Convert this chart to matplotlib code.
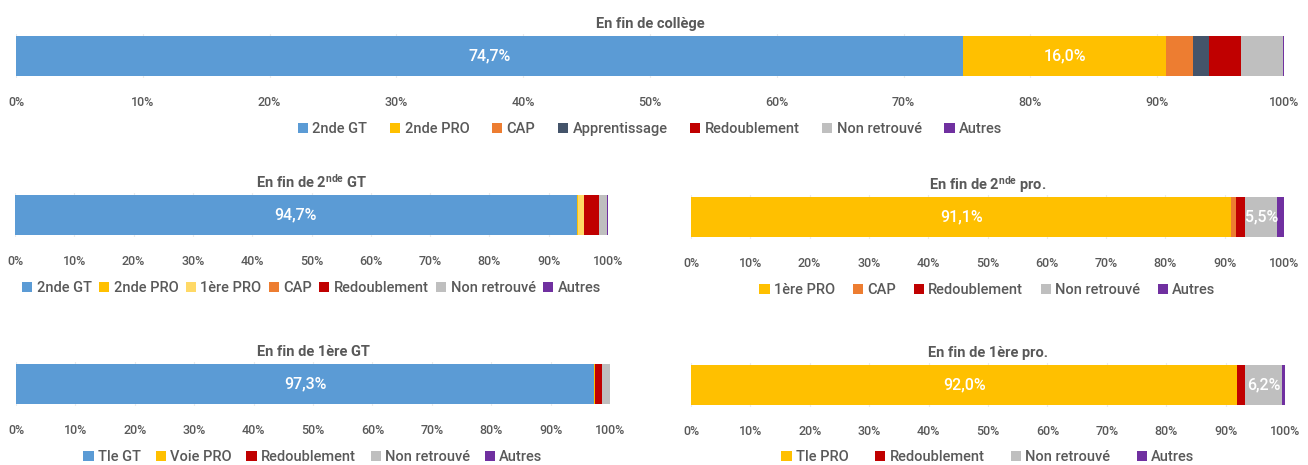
import matplotlib
matplotlib.use("Agg")
import matplotlib.pyplot as plt
from matplotlib.patches import Patch

FAM = ['Roboto', 'DejaVu Sans']
plt.rcParams['font.family'] = FAM
plt.rcParams['mathtext.fontset'] = 'custom'
plt.rcParams['mathtext.rm'] = 'Roboto:bold'
plt.rcParams['mathtext.it'] = 'Roboto:bold'
plt.rcParams['mathtext.bf'] = 'Roboto:bold'

COLORS = {
    '2nde GT': '#5B9BD5', '2nde PRO': '#FFC000', '1ère PRO': '#FFD966', 'CAP': '#ED7D31',
    'Apprentissage': '#44546A', 'Redoublement': '#C00000', 'Non retrouvé': '#BFBFBF',
    'Autres': '#7030A0', 'Tle GT': '#5B9BD5', 'Voie PRO': '#FFC000', 'Tle PRO': '#FFC000',
}
COLORS_R = {'1ère PRO': '#FFC000'}

# Data
college_cats = ['2nde GT', '2nde PRO', 'CAP', 'Apprentissage', 'Redoublement', 'Non retrouvé', 'Autres']
college_vals = [74.7, 16.0, 2.1, 1.3, 2.5, 3.3, 0.1]

gt2_cats = ['2nde GT', '2nde PRO', '1ère PRO', 'CAP', 'Redoublement', 'Non retrouvé', 'Autres']
gt2_vals = [94.7, 0.3, 1.0, 0.0, 2.4, 1.4, 0.2]

pro2_cats = ['1ère PRO', 'CAP', 'Redoublement', 'Non retrouvé', 'Autres']
pro2_vals = [91.1, 0.8, 1.5, 5.5, 1.1]

gt1_cats = ['Tle GT', 'Voie PRO', 'Redoublement', 'Non retrouvé', 'Autres']
gt1_vals = [97.3, 0.1, 1.3, 1.3, 0.0]

pro1_cats = ['Tle PRO', 'Redoublement', 'Non retrouvé', 'Autres']
pro1_vals = [92.0, 1.3, 6.2, 0.5]

ticks = list(range(0, 101, 10))
tick_labels = [f"{t}%" for t in ticks]

W, H = 1308, 465
fig = plt.figure(figsize=(W / 100, H / 100), dpi=100)

TXT = '#595959'


def px_axes(x0, x1, y0, y1):
    return fig.add_axes([x0 / W, 1 - y1 / H, (x1 - x0) / W, (y1 - y0) / H])


def panel(box, cats, vals, title, legend_y, colors, colspace):
    x0, x1, y0, y1 = box
    ax = px_axes(x0, x1, y0 - 2, y1 + 2)
    left = 0
    handles = []
    for c, v in zip(cats, vals):
        col = colors.get(c, COLORS[c])
        ax.barh(0, v, left=left, height=1.0, color=col, edgecolor='none', zorder=3)
        if v >= 5:
            ax.text(left + v / 2, 0, f"{v:.1f}%".replace('.', ','), ha='center', va='center',
                    color='white', fontsize=11.5, fontweight='medium', zorder=4)
        left += v
        handles.append(Patch(facecolor=col, edgecolor='none', label=c))
    ax.set_xlim(0, 100)
    ax.set_ylim(-0.5 - 2 / (y1 - y0), 0.5 + 2 / (y1 - y0))
    ax.set_yticks([])
    ax.set_xticks(ticks)
    ax.set_xticklabels(tick_labels)
    ax.tick_params(axis='x', length=0, pad=13, labelsize=9, labelcolor=TXT)
    for lab in ax.get_xticklabels():
        lab.set_fontweight('medium')
    ax.grid(axis='x', color='#EBEBEB', linewidth=0.8, zorder=0)
    for s in ax.spines.values():
        s.set_visible(False)
    ax.set_title(title, fontsize=10.5, color=TXT, fontweight='bold', pad=4)
    cx = (x0 + x1) / 2 / W
    fig.legend(handles=handles, loc='center', bbox_to_anchor=(cx, 1 - legend_y / H),
               ncol=len(handles), frameon=False, handlelength=0.7,
               handleheight=0.7, handletextpad=0.3, columnspacing=colspace,
               labelcolor=TXT, prop={'family': FAM, 'size': 10.5, 'weight': 'medium'})
    return ax


panel((16, 1284, 36, 76), college_cats, college_vals, 'En fin de collège', 129, {}, 1.55)
panel((15, 608, 195, 235), gt2_cats, gt2_vals, r'En fin de 2$^{\mathrm{nde}}$ GT', 288, {}, 0.5)
panel((691, 1284, 197, 237), pro2_cats, pro2_vals, r'En fin de 2$^{\mathrm{nde}}$ pro.', 290, COLORS_R, 1.2)
panel((16, 610, 364, 404), gt1_cats, gt1_vals, 'En fin de 1ère GT', 457, {}, 1.0)
panel((691, 1285, 365, 405), pro1_cats, pro1_vals, 'En fin de 1ère pro.', 457, {}, 1.8)

fig.savefig('out.png', dpi=100)
